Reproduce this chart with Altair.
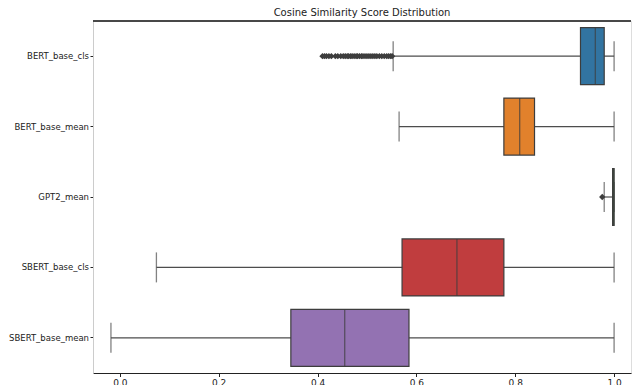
import altair as alt
import pandas as pd

models = ["BERT_base_cls", "BERT_base_mean", "GPT2_mean", "SBERT_base_cls", "SBERT_base_mean"]
colors = ["#3274a1", "#e1812c", "#3a923a", "#c03d3e", "#9372b2"]
lower = [0.553, 0.565, 0.980, 0.074, -0.018]
q1 = [0.932, 0.777, 0.997, 0.571, 0.346]
median = [0.962, 0.809, 0.999, 0.682, 0.455]
q3 = [0.980, 0.839, 1.000, 0.777, 0.585]
upper = [1.000, 1.000, 1.000, 1.000, 1.000]

outlier_models = ["BERT_base_cls"] * 34 + ["GPT2_mean"]
outlier_values = [0.410, 0.414, 0.418, 0.423, 0.428, 0.436, 0.441, 0.447, 0.452, 0.456,
                  0.460, 0.463, 0.467, 0.470, 0.474, 0.478, 0.481, 0.485, 0.489, 0.492,
                  0.496, 0.500, 0.504, 0.508, 0.512, 0.516, 0.520, 0.525, 0.530, 0.535,
                  0.540, 0.544, 0.548, 0.551, 0.976]

x_ticks = [0.0, 0.2, 0.4, 0.6, 0.8, 1.0]

stats = pd.DataFrame({"model": models, "color": colors, "lower": lower, "q1": q1,
                      "median": median, "q3": q3, "upper": upper})
outl = pd.DataFrame({"model": outlier_models, "value": outlier_values})

H = 352
xscale = alt.Scale(domain=[-0.0543, 1.0342], nice=False, zero=False)
yscale = alt.Scale(domain=models, paddingInner=0, paddingOuter=0)

xax = alt.Axis(values=x_ticks, format=".1f", title=None, grid=False, domainColor="#222222",
               tickColor="#222222", labelFont="DejaVu Sans", labelFontSize=9,
               labelColor="#222222", tickSize=3.5, labelPadding=2)
yax = alt.Axis(title=None, grid=False, domainColor="#cccccc", tickColor="#222222",
               labelFont="DejaVu Sans", labelFontSize=8.5, labelColor="#222222",
               tickSize=3, labelPadding=1.5)

base = alt.Chart(stats)

whisker = base.mark_rule(color="#4d4d4d", strokeWidth=1.2).encode(
    x=alt.X("lower:Q", scale=xscale, axis=xax),
    x2="upper:Q",
    y=alt.Y("model:N", scale=yscale, axis=yax, sort=models),
)
cap_lo = base.mark_tick(color="#4d4d4d", size=30, thickness=1.3).encode(
    x=alt.X("lower:Q", scale=xscale), y=alt.Y("model:N", scale=yscale, sort=models))
cap_hi = base.mark_tick(color="#4d4d4d", size=30, thickness=1.3).encode(
    x=alt.X("upper:Q", scale=xscale), y=alt.Y("model:N", scale=yscale, sort=models))
box = base.mark_bar(size=57, stroke="#3d3d3d", strokeWidth=1.2).encode(
    x=alt.X("q1:Q", scale=xscale),
    x2="q3:Q",
    y=alt.Y("model:N", scale=yscale, sort=models),
    color=alt.Color("color:N", scale=None, legend=None),
)
med = base.mark_tick(color="#3d3d3d", size=57, thickness=1.3).encode(
    x=alt.X("median:Q", scale=xscale), y=alt.Y("model:N", scale=yscale, sort=models))
fliers = alt.Chart(outl).mark_point(shape="diamond", filled=True, color="#3d3d3d",
                                    size=40, opacity=1).encode(
    x=alt.X("value:Q", scale=xscale), y=alt.Y("model:N", scale=yscale, sort=models))
top = base.mark_rule(color="#444444", strokeWidth=1.2).encode(
    x=alt.value(0), x2=alt.value("width"), y=alt.value(0))

chart = alt.layer(whisker, cap_lo, cap_hi, box, med, fliers, top).properties(
    width=624, height=H,
    autosize=alt.AutoSizeParams(type="fit-x", contains="padding"),
    title=alt.TitleParams("Cosine Similarity Score Distribution", font="DejaVu Sans",
                          fontSize=10, fontWeight="normal", color="#222222", offset=2),
    padding={"left": 0, "top": 0, "right": 0, "bottom": 0},
).configure_view(stroke=None).configure(background="white")

chart.save("out.html", embed_options={"renderer": "svg", "actions": False})
